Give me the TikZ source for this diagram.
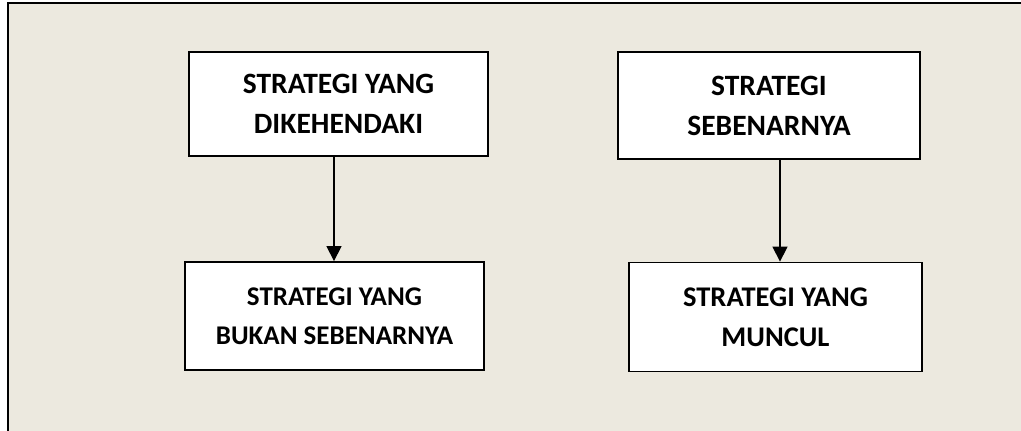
\documentclass[tikz,border=0pt]{standalone}
\usepackage{fontspec}
\setmainfont{Carlito}
\usetikzlibrary{arrows.meta}

\definecolor{paper}{RGB}{236,233,223}

\tikzset{
    kotak/.style={draw=black,line width=1.8pt,fill=white,inner sep=0pt,align=center,
        font=\bfseries\fontsize{29.5}{40}\selectfont},
    panah/.style={line width=1.3pt,-{Triangle[width=15pt,length=15pt]}}
}

\begin{document}
\begin{tikzpicture}[x=1pt,y=-1pt]
    \useasboundingbox (0,0) rectangle (1021,431);
    % latar
    \fill [paper] (8,3) rectangle (1021,431);
    \draw [line width=2.2pt] (8,431) -- (8,3) -- (1021,3);
    % kotak
    \node [kotak,minimum width=299pt,minimum height=104pt] (A) at (338.5,104) {STRATEGI YANG\\DIKEHENDAKI};
    \node [kotak,minimum width=302pt,minimum height=107pt] (B) at (769,105.5) {STRATEGI\\SEBENARNYA};
    \node [kotak,minimum width=299pt,minimum height=108pt,
        font=\bfseries\fontsize{27}{39}\selectfont] (C) at (334.5,316) {STRATEGI YANG\\BUKAN SEBENARNYA};
    \node [kotak,minimum width=293pt,minimum height=109pt,
        font=\bfseries\fontsize{28.5}{40}\selectfont] (D) at (775.5,317) {STRATEGI YANG\\MUNCUL};
    % panah
    \coordinate (P) at (334,0);
    \coordinate (Q) at (780,0);
    \draw [panah] (A.south -| P) -- (C.north -| P);
    \draw [panah] (B.south -| Q) -- (D.north -| Q);
\end{tikzpicture}
\end{document}
